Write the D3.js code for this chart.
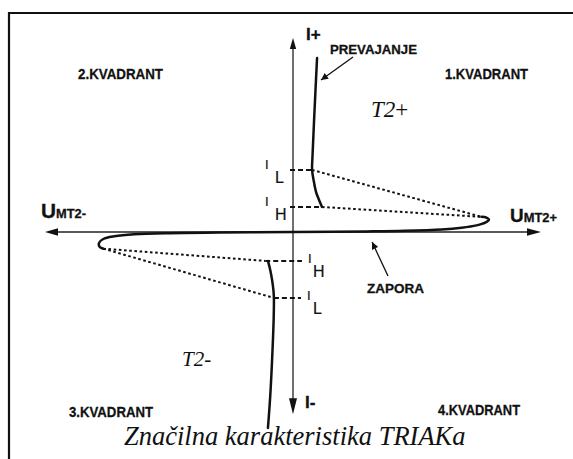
<!DOCTYPE html>
<html>
<head>
<meta charset="utf-8">
<script src="https://cdn.jsdelivr.net/npm/d3@7/dist/d3.min.js"></script>
<style>
  html, body { margin: 0; padding: 0; background: #fff; }
  svg { display: block; }
  .lbl, .narrow { font-family: "Liberation Sans", Arial, sans-serif; font-weight: bold; fill: #111; stroke: #111; stroke-width: 0.3; }
  .ser { font-family: "Liberation Serif", "Times New Roman", serif; font-style: italic; fill: #111; }
  .sub { font-family: "Liberation Sans", Arial, sans-serif; fill: #111; stroke: #111; stroke-width: 0.2; }
</style>
</head>
<body>
<script>
// TRIAC characteristic: current I (vertical) versus main terminal voltage U_MT2 (horizontal)

// axis extents (voltage units, current units)
const axisU = [-100, 100];
const axisI = [-94, 100];

// holding and latching current levels
const holdPos = 12.9, latchPos = 32;
const holdNeg = -14.9, latchNeg = -34;

// conduction branch, quadrant 1 (T2+), top down to the holding point
const onPos = [[9.7, 89.7], [8.5, 57.7], [7.9, 40], [7.7, 32], [8.3, 26.8], [9.3, 20.6], [10.5, 16.5], [11.7, 12.9]];
// blocking branch, quadrant 1, from origin to breakover
const offPos = [[0, 0], [30, 0.3], [45, 0.6], [60, 1.3], [68, 2.2], [74, 3.4], [77.5, 4.8], [79, 6.3], [78, 7.4], [76, 7.8]];
// blocking branch, quadrant 3
const offNeg = [[0, 0], [-30, -0.3], [-50, -0.6], [-64, -1.2], [-72, -2.2], [-76.5, -3.6], [-78.2, -5.6], [-78, -7.6], [-76.5, -8.6]];
// conduction branch, quadrant 3 (T2-), from holding point downwards
const onNeg = [[-10.1, -14.9], [-9.2, -19.5], [-8.4, -25], [-7.9, -30], [-7.7, -34], [-7.8, -45], [-8.4, -65], [-9.2, -85], [-10.1, -101]];

// switching transitions (dotted), breakover point to latching / holding points
const jumpsPos = [[[7.7, latchPos], [76, 7.8]], [[11.7, holdPos], [76, 7.8]]];
const jumpsNeg = [[[-76.5, -8.6], [-11.2, holdNeg]], [[-76.5, -8.6], [-7.7, latchNeg]]];

// dashed level markers: [current, from U, to U]
const levels = [[latchPos, -1.2, 7.7], [holdPos, -1.2, 11.7], [holdNeg, -11.2, 3.6], [latchNeg, -7.7, 3.2]];

const quadrants = ["1.KVADRANT", "2.KVADRANT", "3.KVADRANT", "4.KVADRANT"];
const caption = "Značilna karakteristika TRIAKa";

const W = 573, H = 459;
const svg = d3.select("body").append("svg").attr("width", W).attr("height", H);

const x = d3.scaleLinear().domain([-100, 100]).range([45, 541]);
const y = d3.scaleLinear().domain([-100, 100]).range([426, 38]);

// frame
svg.append("path").attr("d", `M9,${H} L9,13 L${W},13`).attr("fill", "none")
  .attr("stroke", "#111").attr("stroke-width", 2.2);

// axes
svg.append("line").attr("x1", x(axisU[0]) + 8).attr("x2", x(axisU[1]) - 8)
  .attr("y1", y(0)).attr("y2", y(0)).attr("stroke", "#222").attr("stroke-width", 1.3);
svg.append("line").attr("x1", x(0)).attr("x2", x(0))
  .attr("y1", y(axisI[1]) + 6).attr("y2", y(axisI[0]) - 8).attr("stroke", "#222").attr("stroke-width", 1.3);

const tri = (tx, ty, dx, dy, len, half) => {
  // arrowhead pointing in direction (dx,dy)
  const bx = tx - dx * len, by = ty - dy * len;
  const px = -dy * half, py = dx * half;
  return `M${tx},${ty} L${bx + px},${by + py} L${bx - px},${by - py} Z`;
};
const heads = [
  tri(x(axisU[0]), y(0), -1, 0, 13, 3.8),
  tri(x(axisU[1]), y(0), 1, 0, 14, 3.8),
  tri(x(0), y(axisI[1]), 0, -1, 11, 3.2),
  tri(x(0), y(axisI[0]), 0, 1, 16, 4)
];
svg.selectAll("path.head").data(heads).join("path").attr("class", "head")
  .attr("d", d => d).attr("fill", "#111");

// characteristic curves
const line = d3.line().x(d => x(d[0])).y(d => y(d[1])).curve(d3.curveCatmullRom.alpha(0.5));
svg.selectAll("path.branch").data([onPos, offPos, offNeg, onNeg]).join("path")
  .attr("class", "branch").attr("d", line).attr("fill", "none")
  .attr("stroke", "#111").attr("stroke-width", 2.5).attr("stroke-linecap", "round");

// dotted transitions
const straight = d3.line().x(d => x(d[0])).y(d => y(d[1]));
svg.selectAll("path.jump").data(jumpsPos.concat(jumpsNeg)).join("path")
  .attr("class", "jump").attr("d", straight).attr("fill", "none")
  .attr("stroke", "#111").attr("stroke-width", 2).attr("stroke-dasharray", "2.6,2.6");

// dashed level lines
svg.selectAll("line.lvl").data(levels).join("line").attr("class", "lvl")
  .attr("x1", d => x(d[1])).attr("x2", d => x(d[2]))
  .attr("y1", d => y(d[0])).attr("y2", d => y(d[0]))
  .attr("stroke", "#111").attr("stroke-width", 2).attr("stroke-dasharray", "5,3");

// level labels I_L / I_H
const lvlLabels = [
  { sub: "L", v: latchPos, xi: 265, xs: 275, side: 1 },
  { sub: "H", v: holdPos, xi: 265, xs: 275, side: 1 },
  { sub: "H", v: holdNeg, xi: 308, xs: 313, side: -1 },
  { sub: "L", v: latchNeg, xi: 307, xs: 313, side: -1 }
];
lvlLabels.forEach(d => {
  const yy = y(d.v);
  svg.append("text").attr("class", "sub").attr("x", d.xi).attr("y", yy + (d.side > 0 ? -1 : 2))
    .attr("font-size", 13).text("I");
  svg.append("text").attr("class", "sub").attr("x", d.xs).attr("y", yy + (d.side > 0 ? 13 : 16))
    .attr("font-size", 16).text(d.sub);
});

// pointer arrows
svg.append("defs").append("marker").attr("id", "ah").attr("viewBox", "0 0 10 10")
  .attr("refX", 10).attr("refY", 5).attr("markerWidth", 9).attr("markerHeight", 7)
  .attr("markerUnits", "userSpaceOnUse").attr("orient", "auto")
  .append("path").attr("d", "M0,0 L10,5 L0,10 Z").attr("fill", "#111");
const pointers = [[[24.2, 90.2], [11.3, 78.4]], [[38.3, -22.7], [31.9, -5.2]]];
svg.selectAll("path.ptr").data(pointers).join("path").attr("class", "ptr")
  .attr("d", straight).attr("stroke", "#111").attr("stroke-width", 1.3)
  .attr("fill", "none").attr("marker-end", "url(#ah)");

// texts
const T = (cls, tx, ty, size, s, len) => {
  const t = svg.append("text").attr("class", cls)
    .attr("x", tx).attr("y", ty).attr("font-size", size).text(s);
  if (len) t.attr("textLength", len).attr("lengthAdjust", "spacingAndGlyphs");
  return t;
};

T("narrow", 445, 79, 15.5, quadrants[0], 83);
T("narrow", 78, 79, 15.5, quadrants[1], 85);
T("narrow", 69, 417, 15.5, quadrants[2], 84);
T("narrow", 438, 415, 15.5, quadrants[3], 82);

T("lbl", 330, 54, 13.5, "PREVAJANJE", 87);
T("lbl", 367, 293, 13, "ZAPORA", 57);
T("lbl", 306, 40, 17, "I+");
T("lbl", 305, 408, 17, "I-");

const u1 = svg.append("text").attr("class", "narrow").attr("x", 41).attr("y", 218);
u1.append("tspan").attr("font-size", 21).text("U");
u1.append("tspan").attr("font-size", 13).text("MT2-");
u1.attr("textLength", 45).attr("lengthAdjust", "spacingAndGlyphs");
const u2 = svg.append("text").attr("class", "narrow").attr("x", 510).attr("y", 222);
u2.append("tspan").attr("font-size", 19).text("U");
u2.append("tspan").attr("font-size", 13).text("MT2+");
u2.attr("textLength", 47).attr("lengthAdjust", "spacingAndGlyphs");

const t2p = T("ser", 371, 117, 23, "T2");
t2p.append("tspan").attr("font-style", "normal").text("+");
T("ser", 182, 366, 21, "T2-");

T("ser", 124, 445, 26.5, caption);
</script>
</body>
</html>
